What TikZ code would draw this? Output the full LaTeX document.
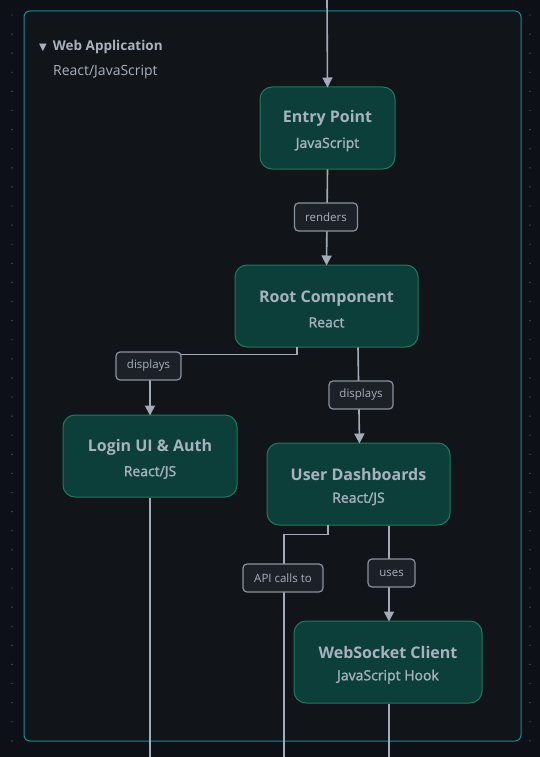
\documentclass[tikz,border=0pt]{standalone}
\usepackage{fontspec}
\setmainfont{Open Sans}
\newfontfamily\symfont{DejaVu Sans}
\newfontfamily\medfont[FakeBold=1.5]{Open Sans}
\usetikzlibrary{arrows.meta,calc}
\definecolor{bgc}{HTML}{0D1117}
\definecolor{contfill}{HTML}{111418}
\definecolor{contborder}{HTML}{1B8A9C}
\definecolor{nodefill}{HTML}{0D3F3A}
\definecolor{nodeborder}{HTML}{1E7A5E}
\definecolor{txt}{HTML}{A8B2BE}
\definecolor{edgec}{HTML}{A3ABB7}
\definecolor{lblfill}{HTML}{1C2027}
\definecolor{lblborder}{HTML}{8A929D}
\definecolor{dotc}{HTML}{5A6068}
\tikzset{
  comp/.style={draw=nodeborder, line width=1pt, fill=nodefill, rounded corners=12pt,
    minimum height=82pt, inner sep=0pt, align=center, text=txt},
  lbl/.style={draw=lblborder, line width=1.2pt, fill=lblfill, rounded corners=4pt,
    minimum height=28pt, inner sep=0pt, text=txt, font=\fontsize{11.5}{12}\selectfont},
  edge/.style={draw=edgec, line width=1.6pt},
  arr/.style={edge, -{Triangle[width=10pt,length=10pt]}},
}
\newcommand{\comptext}[2]{{\bfseries\fontsize{16}{19}\selectfont\rule{0pt}{18pt}#1}\\[10pt]{\medfont\fontsize{14}{15}\selectfont #2}}
\begin{document}
\begin{tikzpicture}[x=1pt,y=-1pt]
\useasboundingbox[fill=bgc] (0,0) rectangle (540,757);
% dots
\foreach \k in {0,...,39}{
  \fill[dotc] (12,15+19.1*\k) circle (0.7);
  \fill[dotc] (530,15+19.1*\k) circle (0.7);
}
% container
\draw[contborder, fill=contfill, line width=1pt, rounded corners=6pt] (24,11) rectangle (521,741);
\node[anchor=west, text=txt, inner sep=0pt, font=\bfseries\fontsize{13.5}{15}\selectfont] (title) at (39,47) {{\symfont\fontsize{10}{12}\selectfont ▼}\hspace{6pt}Web Application};
\node[anchor=west, text=txt, inner sep=0pt, font=\fontsize{14}{16}\selectfont] (subtitle) at (53,72) {React/JavaScript};
% components
\node[comp, minimum width=135pt] (entry) at (327.5,128) {\comptext{Entry Point}{JavaScript}};
\node[comp, minimum width=183pt] (root) at (326.5,306) {\comptext{Root Component}{React}};
\node[comp, minimum width=174pt] (login) at (150,456) {\comptext{Login UI \& Auth}{React/JS}};
\node[comp, minimum width=183pt] (dash) at (358.5,484) {\comptext{User Dashboards}{React/JS}};
\node[comp, minimum width=188pt] (ws) at (388,662) {\comptext{WebSocket Client}{JavaScript Hook}};
% free ends
\coordinate (topin) at (327,0);
\coordinate (loginout) at (150,757);
\coordinate (apiout) at (284,757);
\coordinate (wsout) at (389,757);
% edges
\draw[arr] (topin) -- ([yshift=-1pt]entry.north);
\draw[arr] (entry.south) -- ([yshift=-1pt]root.north);
\draw[arr] ([xshift=-29.5pt,yshift=1pt]root.south) -- ++(0,8) -| ([yshift=-1pt]login.north);
\draw[arr] ([xshift=31.5pt]root.south) -- ([xshift=1pt,yshift=-1pt]dash.north);
\draw[arr] ([xshift=30.5pt]dash.south) -- ([xshift=1pt,yshift=-1pt]ws.north);
\draw[edge] ([xshift=-30.5pt,yshift=1pt]dash.south) -- ++(0,10) -| (apiout);
\draw[edge] (login.south) -- (loginout);
\draw[edge] ([xshift=1pt]ws.south) -- (wsout);
% labels
\node[lbl, minimum width=63pt] (l1) at (326,217) {renders};
\node[lbl, minimum width=65pt] (l2) at (148.5,366) {displays};
\node[lbl, minimum width=64pt] (l3) at (361,395) {displays};
\node[lbl, minimum width=80pt] (l4) at (283,578) {API calls to};
\node[lbl, minimum width=47pt] (l5) at (391.5,573) {uses};
\end{tikzpicture}
\end{document}
